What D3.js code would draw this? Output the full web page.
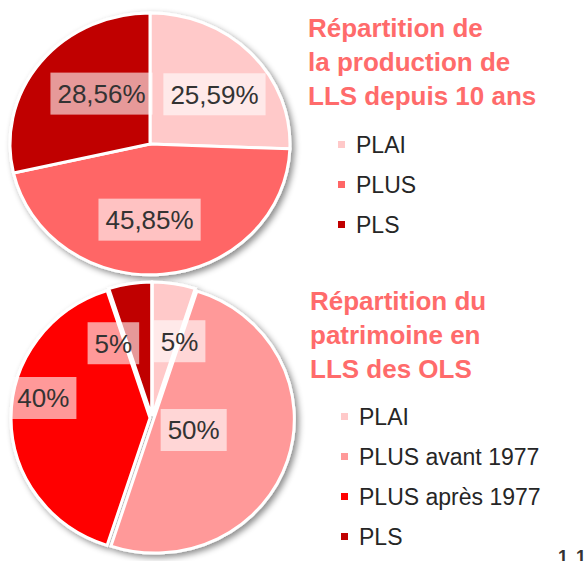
<!DOCTYPE html>
<html>
<head>
<meta charset="utf-8">
<script src="https://cdn.jsdelivr.net/npm/d3@7"></script>
<style>
  body { margin: 0; background: #fff; }
  svg { display: block; font-family: "Liberation Sans", Arial, sans-serif; }
</style>
</head>
<body>
<div id="chart"></div>
<script>
// data
const topTitle = ["Répartition de", "la production de", "LLS depuis 10 ans"];
const topCategories = ["PLAI", "PLUS", "PLS"];
const topValues = [25.59, 45.85, 28.56];
const topColors = ["#FFC9C9", "#FF6666", "#C00000"];

const bottomTitle = ["Répartition du", "patrimoine en", "LLS des OLS"];
const bottomCategories = ["PLAI", "PLUS avant 1977", "PLUS après 1977", "PLS"];
const bottomValues = [5, 50, 40, 5];
const bottomColors = ["#FFC9C9", "#FF9999", "#FF0000", "#C00000"];

const pageNumber = "11";

const width = 588, height = 561;

const svg = d3.select("#chart")
  .append("svg")
    .attr("width", width)
    .attr("height", height);

// soft grey shadow behind each pie
const defs = svg.append("defs");
defs.append("filter")
    .attr("id", "shadow")
    .attr("x", "-10%").attr("y", "-10%")
    .attr("width", "125%").attr("height", "125%")
  .append("feDropShadow")
    .attr("dx", 3)
    .attr("dy", 3)
    .attr("stdDeviation", 3)
    .attr("flood-color", "#000")
    .attr("flood-opacity", 0.45);

const frLocale = d3.formatLocale({decimal: ",", thousands: " ", grouping: [3], currency: ["", " €"]});

function drawPie(opts) {
  const data = opts.categories.map((c, i) => ({name: c, value: opts.values[i], color: opts.colors[i]}));
  const pie = d3.pie().sort(null).value(d => d.value);
  const arcs = pie(data);
  const total = d3.sum(opts.values);

  // unit circle arc, stretched to an ellipse
  const arc = d3.arc().innerRadius(0).outerRadius(1);

  const g = svg.append("g")
      .attr("filter", "url(#shadow)");

  g.selectAll("path")
    .data(arcs)
    .join("path")
      .attr("transform", d => {
        const a = (d.startAngle + d.endAngle) / 2;
        const dx = Math.sin(a) * opts.explode;
        const dy = -Math.cos(a) * opts.explode;
        return `translate(${opts.cx + dx},${opts.cy + dy}) scale(${opts.rx},${opts.ry})`;
      })
      .attr("d", arc)
      .attr("fill", d => d.data.color)
      .attr("stroke", "#fff")
      .attr("stroke-width", 3)
      .attr("vector-effect", "non-scaling-stroke");

  // data labels with a light box behind
  const labels = svg.append("g");
  arcs.forEach((d, i) => {
    const a = (d.startAngle + d.endAngle) / 2;
    const nudge = opts.nudges[i];
    const x = opts.cx + Math.sin(a) * opts.rx * opts.labelK + nudge[0];
    const y = opts.cy - Math.cos(a) * opts.ry * opts.labelK + nudge[1];
    const lg = labels.append("g").attr("transform", `translate(${x},${y})`);
    const box = lg.append("rect")
        .attr("fill", "#fff")
        .attr("fill-opacity", 0.6);
    const t = lg.append("text")
        .attr("text-anchor", "middle")
        .attr("dy", "0.36em")
        .style("font-size", "26px")
        .attr("fill", "#333")
        .text(opts.format(d.data.value / total * 100) + "%");
    const w = t.node().getComputedTextLength();
    box.attr("x", -w / 2 - 7).attr("y", -21)
       .attr("width", w + 14).attr("height", 42);
  });

  // title
  svg.append("text")
      .attr("x", opts.titleX)
      .attr("y", opts.titleY)
      .attr("fill", "#FF6B6B")
      .style("font-size", "26px")
      .style("font-weight", "bold")
    .selectAll("tspan")
    .data(opts.title)
    .join("tspan")
      .attr("x", opts.titleX)
      .attr("dy", (d, i) => i === 0 ? 0 : 34)
      .text(d => d);

  // legend
  const leg = svg.append("g")
    .selectAll("g")
    .data(data)
    .join("g")
      .attr("transform", (d, i) => `translate(${opts.legendX},${opts.legendY + i * 40})`);
  leg.append("rect")
      .attr("x", -18).attr("y", -4)
      .attr("width", 7).attr("height", 7)
      .attr("fill", d => d.color);
  leg.append("text")
      .attr("dy", "0.35em")
      .style("font-size", "23px")
      .attr("fill", "#262626")
      .text(d => d.name);
}

drawPie({
  categories: topCategories, values: topValues, colors: topColors, title: topTitle,
  cx: 150, cy: 144, rx: 140, ry: 131, explode: 0,
  labelK: 0.58, nudges: [[6, 3], [-8, 0], [15, -3]],
  format: frLocale.format(".2f"),
  titleX: 308, titleY: 37,
  legendX: 356, legendY: 145
});

drawPie({
  categories: bottomCategories, values: bottomValues, colors: bottomColors, title: bottomTitle,
  cx: 152, cy: 418, rx: 139, ry: 134, explode: 2,
  labelK: 0.58, nudges: [[15, 0], [-35, -12], [-28, -20], [-26, 2]],
  format: frLocale.format(".0f"),
  titleX: 310, titleY: 310,
  legendX: 359, legendY: 417
});

// page number, cut by the bottom edge as in the slide
svg.append("text")
    .attr("x", 558)
    .attr("y", 563)
    .style("font-size", "18px")
    .style("font-weight", "bold")
    .style("letter-spacing", "9px")
    .attr("fill", "#333")
    .text(pageNumber);
</script>
</body>
</html>
